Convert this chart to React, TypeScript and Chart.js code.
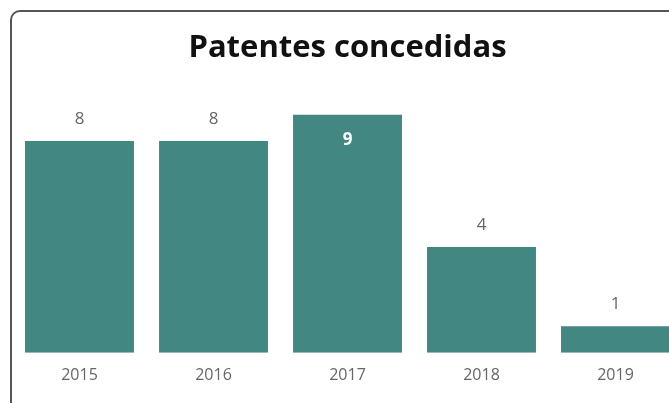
import React, { useEffect, useRef } from "react";
import { Chart, registerables } from "chart.js";

Chart.register(...registerables);

const years = ["2015", "2016", "2017", "2018", "2019"];
const patents = [8, 8, 9, 4, 1];
const titleText = "Patentes concedidas";

const BAR = "#438783";

const valueLabels = {
  id: "valueLabels",
  afterDatasetsDraw(chart: any) {
    const ctx = chart.ctx;
    const meta = chart.getDatasetMeta(0);
    const yMax = chart.scales.y.max;
    ctx.save();
    ctx.textAlign = "center";
    ctx.textBaseline = "middle";
    meta.data.forEach((el: any, i: number) => {
      const v = patents[i];
      const inside = v >= yMax - 1;
      if (inside) {
        ctx.fillStyle = "#ffffff";
        ctx.font = "bold 17px 'Open Sans'";
        ctx.fillText(String(v), el.x, el.y + 25);
      } else {
        ctx.fillStyle = "#666666";
        ctx.font = "17px 'Open Sans'";
        ctx.fillText(String(v), el.x, el.y - 22);
      }
    });
    ctx.restore();
  },
};

export default function App() {
  const ref = useRef<HTMLCanvasElement>(null);
  useEffect(() => {
    document.body.style.margin = "0";
    const chart = new Chart(ref.current!, {
      type: "bar",
      data: {
        labels: years,
        datasets: [
          {
            data: patents,
            backgroundColor: BAR,
            barPercentage: 1,
            categoryPercentage: 0.813,
          },
        ],
      },
      options: {
        animation: false,
        responsive: false,
        layout: { padding: { left: 12.5, right: 17.5, top: 0, bottom: 5 } },
        plugins: {
          legend: { display: false },
          tooltip: { enabled: false },
          title: {
            display: true,
            text: titleText,
            color: "#111111",
            font: { family: "'Open Sans'", size: 31, weight: "bold", lineHeight: 1.2 },
            padding: { top: 30, bottom: 21 },
          },
        },
        scales: {
          x: {
            grid: { display: false, drawTicks: false },
            border: { display: false },
            ticks: { color: "#666666", font: { family: "'Open Sans'", size: 16 }, padding: 13 },
          },
          y: {
            display: false,
            min: 0,
            max: 10,
          },
        },
      },
      plugins: [valueLabels],
    });
    return () => chart.destroy();
  }, []);
  return (
    <div style={{ position: "relative", width: 669, height: 403, overflow: "hidden", background: "#fff" }}>
      <div
        style={{
          position: "absolute",
          left: 10,
          top: 10,
          width: 700,
          height: 420,
          border: "2px solid #555555",
          borderRadius: 10,
        }}
      />
      <canvas ref={ref} width={700} height={403} style={{ position: "absolute", left: 0, top: 0 }} />
    </div>
  );
}
